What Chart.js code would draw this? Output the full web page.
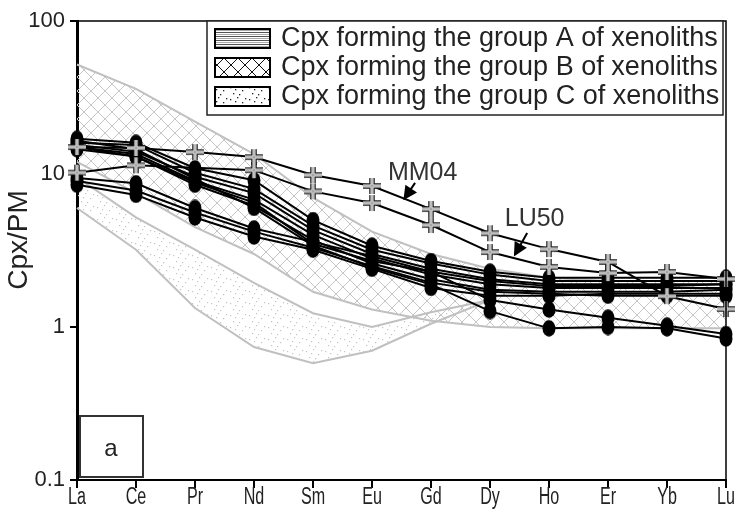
<!DOCTYPE html>
<html>
<head>
<meta charset="utf-8">
<script src="https://cdn.jsdelivr.net/npm/chart.js@4.4.1/dist/chart.umd.min.js"></script>
<style>
html, body { margin: 0; padding: 0; background: #fff; }
</style>
</head>
<body>
<canvas id="chartCpx" width="738" height="524"></canvas>
<script>
// REE categories and y ticks
const ree = ["La", "Ce", "Pr", "Nd", "Sm", "Eu", "Gd", "Dy", "Ho", "Er", "Yb", "Lu"];
const yTicks = [0.1, 1, 10, 100];

// crosses (labelled samples)
const mm04 = [15.0, 14.8, 13.9, 12.9, 9.85, 8.35, 5.9, 4.1, 3.23, 2.66, 1.59, 1.31];
const lu50 = [10.2, 11.4, null, 10.6, 7.7, 6.46, 4.64, 3.09, 2.47, 2.25, 2.29, 2.06];

// filled ellipses (other cpx)
const cpx1 = [17.0, 16.0, 10.9, 9.1, 5.0, 3.4, 2.7, 2.3, 2.1, 2.1, 2.1, 2.1];
const cpx2 = [16.0, 15.5, 10.2, 8.0, 4.6, 3.2, 2.6, 2.2, 2.0, 2.0, 2.0, 2.0];
const cpx3 = [15.5, 14.0, 9.6, 7.5, 4.3, 3.0, 2.4, 2.05, 1.9, 1.9, 1.9, 1.9];
const cpx4 = [15.0, 13.5, 9.0, 6.8, 4.0, 2.8, 2.2, 1.9, 1.8, 1.8, 1.8, 1.8];
const cpx5 = [14.5, 13.0, 8.5, 6.2, 3.7, 2.6, 2.05, 1.75, 1.7, 1.7, 1.7, 1.75];
const cpx6 = [16.5, 14.5, 9.3, 6.0, 3.4, 2.45, 1.9, 1.27, 0.98, 1.0, 0.98, 0.84];
const cpx7 = [15.0, 13.0, 8.8, 6.5, 3.5, 2.7, 2.3, 1.5, 1.3, 1.15, 1.02, 0.9];
const cpx8 = [9.4, 8.7, 6.0, 4.4, 3.6, 2.9, 2.3, 2.0, 1.85, 1.85, 1.85, 1.9];
const cpx9 = [8.5, 7.3, 5.2, 3.9, 3.2, 2.4, 1.8, 1.6, 1.6, 1.65, 1.65, 1.65];
const cpx10 = [9.0, 7.8, 5.6, 4.2, 3.3, 2.5, 1.95, 1.7, 1.65, 1.6, 1.6, 1.6];

// fields of group B (hatched) and group C (dotted)
const groupBTop = [52, 36, 22, 13.5, 7.0, 4.2, 3.0, 2.4, 2.1, 2.0, 2.0, 2.0];
const groupBBottom = [12, 7.5, 4.5, 3.0, 1.7, 1.3, 1.1, 1.0, 0.98, 0.98, 0.98, 0.98];
const groupCTop = [9.5, 5.2, 3.2, 1.94, 1.23, 1.0, 1.25, 1.5, null, null, null, null];
const groupCBottom = [6.0, 3.2, 1.33, 0.74, 0.58, 0.70, 1.05, 1.5, null, null, null, null];

const legendLabels = [
    "Cpx forming the group A of xenoliths",
    "Cpx forming the group B of xenoliths",
    "Cpx forming the group C of xenoliths"
];

const FONT = "'Liberation Sans', Arial, sans-serif";

function makeTile(w, h, draw) {
    const c = document.createElement("canvas");
    c.width = w; c.height = h;
    draw(c.getContext("2d"));
    return c;
}
function toPattern(tile) {
    return document.createElement("canvas").getContext("2d").createPattern(tile, "repeat");
}

// hatch and dots for the fields
const hatchField = toPattern(makeTile(14, 14, g => {
    g.strokeStyle = "#c6c6c6"; g.lineWidth = 1;
    g.beginPath(); g.moveTo(0, 0); g.lineTo(14, 14); g.moveTo(14, 0); g.lineTo(0, 14); g.stroke();
}));
const dotSpots = [[2, 3], [9, 1], [14, 6], [5, 9], [11, 10], [17, 2], [7, 5]];
const dotField = toPattern(makeTile(19, 12, g => {
    g.fillStyle = "#c4c4c4";
    dotSpots.forEach(p => g.fillRect(p[0], p[1], 1.2, 1.2));
}));
// darker versions for the legend swatches
const linesSwatch = toPattern(makeTile(2, 4, g => {
    g.fillStyle = "#fff"; g.fillRect(0, 0, 2, 4);
    g.fillStyle = "#555"; g.fillRect(0, 0, 2, 1);
    g.fillStyle = "#aaa"; g.fillRect(0, 2, 2, 1);
}));
const hatchSwatch = toPattern(makeTile(14, 14, g => {
    g.fillStyle = "#fff"; g.fillRect(0, 0, 14, 14);
    g.strokeStyle = "#111"; g.lineWidth = 1;
    g.beginPath(); g.moveTo(0, 2); g.lineTo(14, 16); g.moveTo(14, 2); g.lineTo(0, 16);
    g.moveTo(0, -12); g.lineTo(14, 2); g.moveTo(14, -12); g.lineTo(0, 2); g.stroke();
}));
const dotSwatch = toPattern(makeTile(19, 12, g => {
    g.fillStyle = "#fff"; g.fillRect(0, 0, 19, 12);
    g.fillStyle = "#222";
    dotSpots.forEach(p => g.fillRect(p[0], p[1], 1.3, 1.3));
}));

// point markers
const ellipseImg = makeTile(14, 17, g => {
    g.fillStyle = "#000";
    g.beginPath(); g.ellipse(7, 8.5, 6.5, 8.2, 0, 0, Math.PI * 2); g.fill();
});
const crossImg = makeTile(20, 18, g => {
    g.lineCap = "butt";
    const draw = (w, col) => {
        g.strokeStyle = col; g.lineWidth = w;
        g.beginPath(); g.moveTo(1, 9); g.lineTo(19, 9); g.moveTo(10, 1); g.lineTo(10, 17); g.stroke();
    };
    draw(5.5, "#1a1a1a");
    draw(3, "#f2f2f2");
    draw(1, "#8a8a8a");
});

function cpxSet(d) {
    return {
        data: d, borderColor: "#000", borderWidth: 2, fill: false,
        pointStyle: ellipseImg, pointRadius: 7, order: 2
    };
}
function fieldSet(d, fill, bg) {
    return {
        data: d, borderColor: "#c0c0c0", borderWidth: 2, fill: fill,
        backgroundColor: bg, pointRadius: 0, order: 8, spanGaps: false
    };
}

const overlay = {
    id: "overlay",
    afterDraw(chart) {
        const ctx = chart.ctx;
        const a = chart.chartArea;
        const xs = chart.scales.x, ys = chart.scales.y;
        ctx.save();
        // frame
        ctx.strokeStyle = "#000"; ctx.lineWidth = 1.5;
        ctx.beginPath();
        ctx.moveTo(a.left, a.top); ctx.lineTo(a.right, a.top); ctx.lineTo(a.right, a.bottom);
        ctx.stroke();

        // narrow category labels
        ctx.fillStyle = "#222"; ctx.font = "23px " + FONT;
        ctx.textAlign = "center"; ctx.textBaseline = "middle";
        ree.forEach((t, i) => {
            ctx.save();
            ctx.translate(xs.getPixelForValue(i), a.bottom + 18);
            ctx.scale(0.7, 1);
            ctx.fillText(t, 0, 0);
            ctx.restore();
        });

        // y title
        ctx.save();
        ctx.translate(19, 240);
        ctx.rotate(-Math.PI / 2);
        ctx.font = "28px " + FONT;
        ctx.fillText("Cpx/PM", 0, 0);
        ctx.restore();

        // legend box
        const lx = 207, ly = a.top, lw = a.right - 3 - lx, lh = 94;
        ctx.fillStyle = "#fff"; ctx.fillRect(lx, ly, lw, lh);
        ctx.lineWidth = 1.5; ctx.strokeStyle = "#222"; ctx.strokeRect(lx, ly, lw, lh);
        const sw = [linesSwatch, hatchSwatch, dotSwatch];
        ctx.font = "27px " + FONT;
        ctx.textBaseline = "middle"; ctx.textAlign = "left";
        legendLabels.forEach((t, i) => {
            const cy = ly + 17 + i * 29;
            ctx.fillStyle = sw[i];
            ctx.fillRect(215, cy - 9, 55, 19);
            ctx.lineWidth = 2; ctx.strokeStyle = "#000";
            ctx.strokeRect(215, cy - 9, 55, 19);
            ctx.fillStyle = "#222";
            ctx.fillText(t, 281, cy + 1);
        });

        // sample labels with arrows
        const arrow = (x1, y1, x2, y2) => {
            ctx.strokeStyle = "#000"; ctx.fillStyle = "#000"; ctx.lineWidth = 2;
            ctx.beginPath(); ctx.moveTo(x1, y1); ctx.lineTo(x2, y2); ctx.stroke();
            const ang = Math.atan2(y2 - y1, x2 - x1);
            ctx.beginPath();
            ctx.moveTo(x2 + 3 * Math.cos(ang), y2 + 3 * Math.sin(ang));
            ctx.lineTo(x2 - 11 * Math.cos(ang) + 7 * Math.sin(ang), y2 - 11 * Math.sin(ang) - 7 * Math.cos(ang));
            ctx.lineTo(x2 - 11 * Math.cos(ang) - 7 * Math.sin(ang), y2 - 11 * Math.sin(ang) + 7 * Math.cos(ang));
            ctx.closePath(); ctx.fill();
        };
        ctx.font = "25px " + FONT;
        ctx.fillStyle = "#333";
        ctx.fillText("MM04", xs.getPixelForValue(5.27), ys.getPixelForValue(10.15));
        arrow(xs.getPixelForValue(5.73), ys.getPixelForValue(8.75), xs.getPixelForValue(5.56), ys.getPixelForValue(7.0));
        ctx.fillStyle = "#333";
        ctx.fillText("LU50", xs.getPixelForValue(7.25), ys.getPixelForValue(5.09));
        arrow(xs.getPixelForValue(7.63), ys.getPixelForValue(4.11), xs.getPixelForValue(7.43), ys.getPixelForValue(3.0));

        // panel letter
        ctx.lineWidth = 2; ctx.strokeStyle = "#333";
        ctx.strokeRect(a.left + 3, 416, 63, 61);
        ctx.fillStyle = "#222"; ctx.font = "24px " + FONT; ctx.textAlign = "center";
        ctx.fillText("a", a.left + 34, 449);
        ctx.restore();
    }
};

const ctx = document.getElementById("chartCpx").getContext("2d");
new Chart(ctx, {
    type: "line",
    data: {
        labels: ree,
        datasets: [
            { data: mm04, borderColor: "#000", borderWidth: 2, fill: false, pointStyle: crossImg, pointRadius: 9, spanGaps: true, order: 0 },
            { data: lu50, borderColor: "#000", borderWidth: 2, fill: false, pointStyle: crossImg, pointRadius: 9, spanGaps: true, order: 0 },
            cpxSet(cpx1), cpxSet(cpx2), cpxSet(cpx3), cpxSet(cpx4), cpxSet(cpx5),
            cpxSet(cpx6), cpxSet(cpx7), cpxSet(cpx8), cpxSet(cpx9), cpxSet(cpx10),
            fieldSet(groupCTop, "+1", dotField),
            fieldSet(groupCBottom, false, "transparent"),
            fieldSet(groupBTop, "+1", hatchField),
            fieldSet(groupBBottom, false, "transparent")
        ]
    },
    options: {
        responsive: false,
        animation: false,
        devicePixelRatio: 1,
        layout: { padding: { top: 21, right: 12, left: 0, bottom: 0 } },
        plugins: { legend: { display: false }, tooltip: { enabled: false } },
        elements: { line: { tension: 0 } },
        scales: {
            x: {
                type: "category",
                offset: false,
                grid: { display: true, drawOnChartArea: false, drawTicks: true, tickLength: 8, color: "#000", lineWidth: 2, offset: false },
                border: { display: true, color: "#000", width: 2 },
                ticks: { display: false, autoSkip: false },
                afterFit: s => { s.height = 44; }
            },
            y: {
                type: "logarithmic",
                min: 0.1, max: 100,
                afterBuildTicks: s => { s.ticks = yTicks.map(v => ({ value: v, major: true })); },
                grid: { display: true, drawOnChartArea: false, drawTicks: true, tickLength: 7, color: "#000", lineWidth: 2 },
                border: { display: true, color: "#000", width: 3 },
                ticks: { color: "#222", font: { family: FONT, size: 22 }, padding: 5, callback: v => String(v) },
                title: { display: false },
                afterFit: s => { s.width = 77; }
            }
        }
    },
    plugins: [overlay]
});
</script>
</body>
</html>
